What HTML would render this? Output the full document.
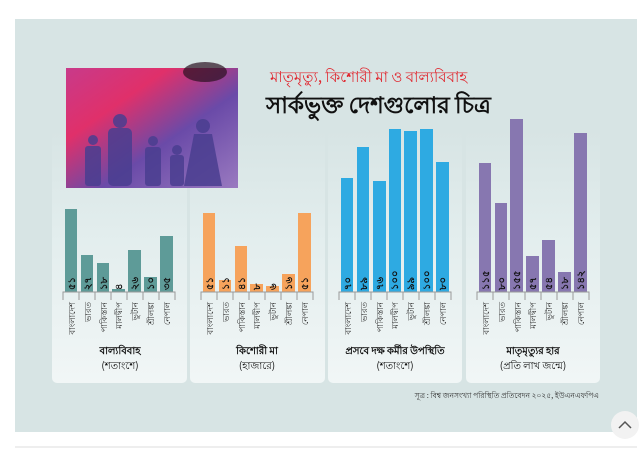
<!DOCTYPE html>
<html><head><meta charset="utf-8"><style>
body{margin:0;width:644px;height:457px;background:#fff;overflow:hidden;font-family:"Liberation Sans","Noto Sans CJK SC",sans-serif}
</style></head><body>
<svg width="644" height="457" xmlns="http://www.w3.org/2000/svg" style="position:absolute;left:0;top:0;font-family:'Noto Sans CJK SC','Liberation Sans',sans-serif">
<defs>
<linearGradient id="pg" x1="0" y1="0" x2="0" y2="1">
<stop offset="0" stop-color="#d7e4e4"/><stop offset="0.4" stop-color="#e2eded"/><stop offset="1" stop-color="#f1f6f6"/></linearGradient>
<linearGradient id="img" x1="0" y1="0" x2="1" y2="1">
<stop offset="0" stop-color="#c83a8a"/><stop offset="0.3" stop-color="#e0306a"/><stop offset="0.6" stop-color="#6a4aa8"/><stop offset="1" stop-color="#9a7ac0"/></linearGradient>
</defs>
<rect x="15" y="19" width="622" height="413" fill="#d7e4e4"/>
<line x1="15" y1="447" x2="637" y2="447" stroke="#ddd"/>
<circle cx="625" cy="425" r="14" fill="#f2f2f2"/>
<path d="M619 428 L625 422 L631 428" stroke="#555" stroke-width="1.5" fill="none"/>
<rect x="52" y="130" width="135" height="253" rx="5" fill="url(#pg)"/>
<rect x="190" y="130" width="135" height="253" rx="5" fill="url(#pg)"/>
<rect x="328" y="130" width="134" height="253" rx="5" fill="url(#pg)"/>
<rect x="466" y="130" width="134" height="253" rx="5" fill="url(#pg)"/>
<rect x="66" y="68" width="172" height="120" fill="url(#img)"/>
<ellipse cx="205" cy="72" rx="22" ry="10" fill="#2a1020" opacity="0.7"/>
<g fill="#4a3e90" opacity="0.85">
<circle cx="120" cy="121" r="7"/><rect x="108" y="128" width="24" height="58" rx="5"/>
<circle cx="92" cy="170" r="0"/>
<circle cx="93" cy="140" r="5"/><rect x="85" y="146" width="16" height="40" rx="3"/>
<circle cx="153" cy="141" r="5"/><rect x="145" y="147" width="16" height="39" rx="3"/>
<circle cx="177" cy="150" r="5"/><rect x="170" y="155" width="14" height="31" rx="3"/>
<circle cx="203" cy="126" r="7"/><path d="M194 134 L212 134 L222 186 L184 186 Z"/>
</g>
<text x="270" y="82" font-size="15" fill="#e0262e">মাতৃমৃত্যু, কিশোরী মা ও বাল্যবিবাহ</text>
<text x="266" y="113" font-size="23" font-weight="bold" fill="#111">সার্কভুক্ত দেশগুলোর চিত্র</text>
<g fill="#5e9b98">
<rect x="65" y="209" width="12" height="83"/><rect x="81" y="255" width="12" height="37"/><rect x="97" y="263" width="12" height="29"/><rect x="112" y="289" width="13" height="3"/><rect x="128" y="250" width="13" height="42"/><rect x="144" y="277" width="13" height="15"/><rect x="160" y="236" width="13" height="56"/>
</g>
<g fill="#f6a35c">
<rect x="203" y="213" width="12" height="79"/><rect x="219" y="280" width="12" height="12"/><rect x="235" y="246" width="12" height="46"/><rect x="250" y="284" width="13" height="8"/><rect x="266" y="286" width="13" height="6"/><rect x="282" y="274" width="13" height="18"/><rect x="298" y="213" width="13" height="79"/>
</g>
<g fill="#2eaae2">
<rect x="341" y="178" width="12" height="114"/><rect x="357" y="147" width="12" height="145"/><rect x="373" y="181" width="13" height="111"/><rect x="389" y="129" width="12" height="163"/><rect x="404" y="131" width="13" height="161"/><rect x="420" y="129" width="13" height="163"/><rect x="436" y="162" width="13" height="130"/>
</g>
<g fill="#8777b0">
<rect x="479" y="163" width="12" height="129"/><rect x="495" y="203" width="12" height="89"/><rect x="510" y="119" width="13" height="173"/><rect x="526" y="256" width="13" height="36"/><rect x="542" y="240" width="13" height="52"/><rect x="558" y="272" width="13" height="20"/><rect x="574" y="133" width="13" height="159"/>
</g>
<g stroke="#999" stroke-width="1" fill="none">
<path d="M63 300 V292 H175 V300 M79 292V300 M95 292V300 M111 292V300 M127 292V300 M143 292V300 M159 292V300"/>
<path d="M201 300 V292 H313 V300 M217 292V300 M233 292V300 M249 292V300 M265 292V300 M281 292V300 M297 292V300"/>
<path d="M339 300 V292 H451 V300 M355 292V300 M371 292V300 M387 292V300 M403 292V300 M419 292V300 M435 292V300"/>
<path d="M477 300 V292 H589 V300 M493 292V300 M509 292V300 M525 292V300 M541 292V300 M557 292V300 M573 292V300"/>
</g>
<g font-size="10" fill="#111" font-weight="bold">
<text transform="translate(75,290) rotate(-90)">৫১</text><text transform="translate(91,290) rotate(-90)">২৭</text><text transform="translate(107,290) rotate(-90)">১৮</text><text transform="translate(122,290) rotate(-90)">৪</text><text transform="translate(138,290) rotate(-90)">২৬</text><text transform="translate(154,290) rotate(-90)">১০</text><text transform="translate(170,290) rotate(-90)">৩৫</text>
<text transform="translate(213,290) rotate(-90)">৫১</text><text transform="translate(229,290) rotate(-90)">১১</text><text transform="translate(245,290) rotate(-90)">৪১</text><text transform="translate(260,290) rotate(-90)">৮</text><text transform="translate(276,290) rotate(-90)">৬</text><text transform="translate(292,290) rotate(-90)">১৬</text><text transform="translate(308,290) rotate(-90)">৫১</text>
<text transform="translate(351,290) rotate(-90)">৭০</text><text transform="translate(367,290) rotate(-90)">৮৯</text><text transform="translate(383,290) rotate(-90)">৭৬</text><text transform="translate(398,290) rotate(-90)">১০০</text><text transform="translate(414,290) rotate(-90)">৯৯</text><text transform="translate(430,290) rotate(-90)">১০০</text><text transform="translate(446,290) rotate(-90)">৮০</text>
<text transform="translate(489,290) rotate(-90)">১১৫</text><text transform="translate(505,290) rotate(-90)">৮০</text><text transform="translate(520,290) rotate(-90)">১৫৫</text><text transform="translate(536,290) rotate(-90)">৫৭</text><text transform="translate(552,290) rotate(-90)">৫৪</text><text transform="translate(568,290) rotate(-90)">১৮</text><text transform="translate(584,290) rotate(-90)">১৪২</text>
</g>
<g font-size="8.5" fill="#333" text-anchor="end">
<g id="lab">
<text transform="translate(75,302) rotate(-90)">বাংলাদেশ</text><text transform="translate(91,302) rotate(-90)">ভারত</text><text transform="translate(107,302) rotate(-90)">পাকিস্তান</text><text transform="translate(122,302) rotate(-90)">মালদ্বীপ</text><text transform="translate(138,302) rotate(-90)">ভুটান</text><text transform="translate(154,302) rotate(-90)">শ্রীলঙ্কা</text><text transform="translate(170,302) rotate(-90)">নেপাল</text>
</g>
<use href="#lab" x="138"/><use href="#lab" x="276"/><use href="#lab" x="414"/>
</g>
<g font-size="10" text-anchor="middle" fill="#111">
<text x="120" y="354" font-weight="bold">বাল্যবিবাহ</text><text x="120" y="369">(শতাংশে)</text>
<text x="257" y="354" font-weight="bold">কিশোরী মা</text><text x="257" y="369">(হাজারে)</text>
<text x="395" y="354" font-weight="bold">প্রসবে দক্ষ কর্মীর উপস্থিতি</text><text x="395" y="369">(শতাংশে)</text>
<text x="533" y="354" font-weight="bold">মাতৃমৃত্যুর হার</text><text x="533" y="369">(প্রতি লাখ জন্মে)</text>
</g>
<text x="599" y="398" font-size="7.5" text-anchor="end" fill="#333">সূত্র : বিশ্ব জনসংখ্যা পরিস্থিতি প্রতিবেদন ২০২৫, ইউএনএফপিএ</text>
</svg>
</body></html>
